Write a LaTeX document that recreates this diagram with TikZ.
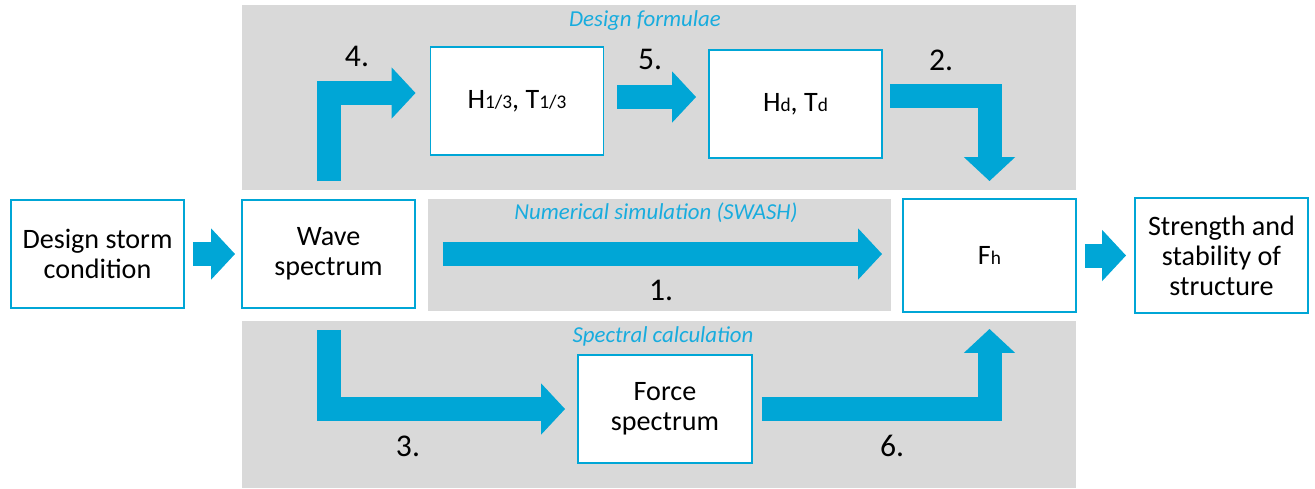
\documentclass[tikz,border=0pt]{standalone}
\usepackage{fontspec}
\setmainfont{Carlito}
\usetikzlibrary{arrows.meta}
\definecolor{flowblue}{RGB}{0,166,214}
\definecolor{titleblue}{RGB}{24,172,222}
\definecolor{panelgray}{RGB}{217,217,217}
\newcommand{\boxfont}{\fontsize{16}{17}\selectfont}
\newcommand{\subfont}{\fontsize{11}{11}\selectfont}

\begin{document}
\begin{tikzpicture}[x=0.02cm,y=-0.02cm,
  stepbox/.style={draw=flowblue,line width=1.1pt,fill=white,minimum width=3.46cm,
    minimum height=2.16cm,align=center,font=\boxfont},
  flow/.style={draw=flowblue,line width=0.48cm,line join=miter,
    -{Triangle[length=0.48cm,width=1cm]}},
  paneltitle/.style={font=\fontsize{13}{15}\selectfont\itshape,text=titleblue},
  num/.style={font=\fontsize{18}{20}\selectfont}]
  \useasboundingbox (0,0) rectangle (1315,488);
  % grey panels for the three routes
  \fill[panelgray] (242,5) rectangle (1076,190);
  \fill[panelgray] (428,199) rectangle (891,311);
  \fill[panelgray] (242,321) rectangle (1076,488);
  \node[paneltitle] (tform) at (645,21) {Design formulae};
  \node[paneltitle] (tnum) at (656,213) {Numerical simulation (SWASH)};
  \node[paneltitle] (tspec) at (663,336) {Spectral calculation};
  % boxes
  \node[stepbox] (storm) at (97.5,254) {Design storm\\condition};
  \node[stepbox] (wave) at (328.5,254) {Wave\\spectrum};
  \node[stepbox] (h13) at (517,101) {H{\subfont 1/3}, T{\subfont 1/3}};
  \node[stepbox] (hd) at (795.5,104) {H{\subfont d}, T{\subfont d}};
  \node[stepbox,minimum height=2.26cm] (fh) at (989.5,255.5) {F{\subfont h}};
  \node[stepbox,minimum height=2.3cm] (strength) at (1221.5,255.5) {Strength and\\stability of\\structure};
  \node[stepbox,minimum width=3.48cm] (force) at (665,409) {Force\\spectrum};
  % block arrows
  \draw[flow,shorten <=0.16cm,shorten >=0.12cm] (storm.east) -- (wave.west);
  \draw[flow,shorten <=0.54cm,shorten >=0.4cm] (wave.east) -- (wave.east -| fh.west);
  \draw[flow,shorten <=0.16cm,shorten >=0.16cm] (fh.east) -- (strength.west);
  \draw[flow,shorten <=0.36cm,shorten >=0.28cm] (wave.north) |- ([yshift=0.16cm]h13.west);
  \draw[flow,shorten <=0.26cm,shorten >=0.24cm] ([yshift=0.08cm]h13.east) -- ([yshift=0.08cm]h13.east -| hd.west);
  \draw[flow,shorten <=0.14cm,shorten >=0.34cm] ([yshift=0.16cm]hd.east) -| (fh.north);
  \draw[flow,shorten <=0.42cm,shorten >=0.24cm] (wave.south) |- (force.west);
  \draw[flow,shorten <=0.18cm,shorten >=0.32cm] (force.east) -| (fh.south);
  % route numbers
  \node[num] (n1) at (661,290) {1.};
  \node[num] (n2) at (941,60) {2.};
  \node[num] (n3) at (408,446) {3.};
  \node[num] (n4) at (357,56) {4.};
  \node[num] (n5) at (650,59) {5.};
  \node[num] (n6) at (892,446) {6.};
\end{tikzpicture}
\end{document}
